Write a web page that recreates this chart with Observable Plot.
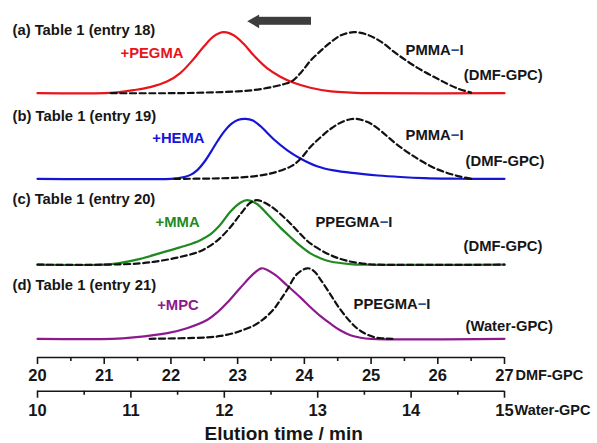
<!DOCTYPE html>
<html><head><meta charset="utf-8">
<script src="https://cdn.jsdelivr.net/npm/d3@7"></script>
<script src="https://cdn.jsdelivr.net/npm/@observablehq/plot@0.6"></script>
<style>
html,body{margin:0;padding:0;background:#fff;}
#chart svg{display:block;}
</style></head>
<body><div id="chart"></div>
<script>
// ---------- data ----------
const dmfTicks = [20, 21, 22, 23, 24, 25, 26, 27];
const waterTicks = [10, 11, 12, 13, 14, 15];
const dmfMinor = [20.5, 21.5, 22.5, 23.5, 24.5, 25.5, 26.5];
const waterMinor = [10.5, 11.5, 12.5, 13.5, 14.5];

// (a) entry 18: +PEGMA (DMF time, min) and PMMA-I
const pegmaTime = [20, 21.0, 21.2, 21.44, 21.69, 21.94, 22.14, 22.34, 22.49, 22.64, 22.79, 22.94, 23.09, 23.24, 23.44, 23.64, 23.84, 24.09, 24.4, 24.7, 25.0, 27];
const pegmaSignal = [0, 0, 0.015, 0.05, 0.10, 0.19, 0.33, 0.56, 0.76, 0.93, 1.0, 0.95, 0.81, 0.62, 0.41, 0.27, 0.17, 0.09, 0.03, 0.01, 0, 0];
const pmmaATime = [21.1, 22.0, 22.5, 23.0, 23.3, 23.55, 23.7, 23.82, 23.95, 24.09, 24.24, 24.39, 24.55, 24.74, 24.94, 25.14, 25.39, 25.69, 25.99, 26.29, 26.5];
const pmmaASignal = [0, 0, 0.01, 0.03, 0.06, 0.11, 0.15, 0.20, 0.34, 0.53, 0.69, 0.83, 0.95, 1.0, 0.96, 0.85, 0.64, 0.42, 0.24, 0.08, 0.01];

// (b) entry 19: +HEMA and PMMA-I
const hemaTime = [20, 22.0, 22.1, 22.2, 22.3, 22.4, 22.5, 22.6, 22.7, 22.8, 22.9, 23.0, 23.12, 23.23, 23.34, 23.54, 23.74, 23.94, 24.19, 24.44, 24.79, 25.1, 25.44, 25.8, 26.2, 26.5, 27];
const hemaSignal = [0, 0, 0.01, 0.03, 0.07, 0.15, 0.28, 0.45, 0.63, 0.79, 0.91, 0.98, 1.0, 0.97, 0.88, 0.66, 0.48, 0.34, 0.21, 0.14, 0.09, 0.055, 0.03, 0.012, 0.003, 0, 0];
const pmmaBTime = [22.05, 22.6, 23.0, 23.3, 23.5, 23.7, 23.82, 23.94, 24.09, 24.24, 24.39, 24.55, 24.74, 24.94, 25.1, 25.39, 25.69, 25.99, 26.29, 26.5];
const pmmaBSignal = [0, 0.005, 0.02, 0.05, 0.09, 0.16, 0.22, 0.33, 0.53, 0.69, 0.83, 0.94, 1.0, 0.95, 0.84, 0.57, 0.34, 0.16, 0.05, 0];

// (c) entry 20: +MMA and PPEGMA-I (DMF)
const mmaTime = [20, 21.0, 21.2, 21.54, 21.94, 22.24, 22.44, 22.59, 22.74, 22.89, 23.04, 23.14, 23.29, 23.44, 23.54, 23.64, 23.79, 23.94, 24.09, 24.24, 24.39, 24.69, 24.9, 27];
const mmaSignal = [0, 0, 0.02, 0.09, 0.21, 0.30, 0.38, 0.47, 0.62, 0.82, 0.96, 1.0, 0.94, 0.79, 0.68, 0.575, 0.43, 0.29, 0.175, 0.10, 0.05, 0.01, 0, 0];
const ppegmaDmfTime = [20, 21.0, 21.54, 21.84, 22.14, 22.44, 22.69, 22.89, 23.04, 23.19, 23.29, 23.49, 23.69, 23.79, 23.89, 24.09, 24.39, 24.64, 24.94, 25.1, 27];
const ppegmaDmfSignal = [0, 0, 0.02, 0.06, 0.12, 0.21, 0.37, 0.58, 0.78, 0.96, 1.0, 0.91, 0.74, 0.64, 0.53, 0.33, 0.15, 0.06, 0.01, 0, 0];

// (d) entry 21: +MPC and PPEGMA-I (Water time, min)
const mpcTime = [10, 10.8, 11.03, 11.39, 11.60, 11.82, 11.93, 12.03, 12.17, 12.32, 12.40, 12.53, 12.67, 12.82, 12.92, 13.03, 13.14, 13.24, 13.35, 13.46, 13.57, 15];
const mpcSignal = [0, 0, 0.02, 0.08, 0.15, 0.27, 0.38, 0.51, 0.72, 0.93, 1.0, 0.92, 0.76, 0.58, 0.45, 0.32, 0.21, 0.12, 0.05, 0.015, 0, 0];
const ppegmaWaterTime = [11.2, 11.82, 11.96, 12.10, 12.17, 12.32, 12.42, 12.53, 12.60, 12.67, 12.78, 12.89, 12.96, 13.03, 13.14, 13.24, 13.35, 13.46, 13.60, 13.71, 13.8];
const ppegmaWaterSignal = [0, 0.02, 0.04, 0.08, 0.11, 0.19, 0.28, 0.42, 0.55, 0.69, 0.92, 1.0, 0.96, 0.84, 0.62, 0.42, 0.24, 0.11, 0.025, 0.005, 0];

// ---------- layout ----------
const panelBase = [4.405, 2.978, 1.547, 0.312];   // baseline of each stacked panel (y units)
const panelGain = [1.017, 1.0, 1.075, 1.175];     // height of each panel's peak (y units)
const toDMF = w => 20 + (w - 10) * 7 / 5;         // water-GPC minutes -> DMF-GPC axis position
const FONT = "'Liberation Sans', Arial, Helvetica, sans-serif";
const INK = "#161616";
const LABEL_SIZE = 14.8;

function trace(times, values, p, conv = t => t) {
  return times.map((t, i) => ({t: conv(t), v: panelBase[p] + values[i] * panelGain[p]}));
}
function curve(rows, color, dashed) {
  const o = {x: "t", y: "v", stroke: color, strokeWidth: 2.2, curve: "catmull-rom", strokeLinejoin: "round"};
  if (dashed) o.strokeDasharray = "6,3.6";
  return Plot.line(rows, o);
}
function label(str, x, y, opts = {}) {
  return Plot.text([str], {x: () => x, y: () => y, text: d => d, textAnchor: "start", lineAnchor: "bottom",
    fontSize: LABEL_SIZE, fontWeight: "bold", fill: INK, fontFamily: FONT, ...opts});
}

const RED = "#e8141b", BLUE = "#1515d6", GREEN = "#1f8a1f", PURPLE = "#8c1a8c", ARROW = "#3d3d3d";

const yDmfAxis = 0, yWaterAxis = -0.562;

const chart = Plot.plot({
  width: 597, height: 443,
  marginLeft: 37, marginRight: 93, marginTop: 0, marginBottom: 86,
  x: {domain: [20, 27], axis: null},
  y: {domain: [0, 5.95], axis: null},
  style: {fontFamily: FONT, background: "#fff"},
  marks: [
    // traces
    curve(trace(pegmaTime, pegmaSignal, 0), RED, false),
    curve(trace(pmmaATime, pmmaASignal, 0), "#111", true),
    curve(trace(hemaTime, hemaSignal, 1), BLUE, false),
    curve(trace(pmmaBTime, pmmaBSignal, 1), "#111", true),
    curve(trace(mmaTime, mmaSignal, 2), GREEN, false),
    curve(trace(ppegmaDmfTime, ppegmaDmfSignal, 2), "#111", true),
    curve(trace(mpcTime, mpcSignal, 3, toDMF), PURPLE, false),
    curve(trace(ppegmaWaterTime, ppegmaWaterSignal, 3, toDMF), "#111", true),

    // arrow (shift to shorter elution time)
    Plot.rect([0], {x1: () => 23.31, x2: () => 24.107, y1: () => 5.537, y2: () => 5.67, fill: ARROW}),
    Plot.dot([0], {x: () => 23.263, y: () => 5.603, symbol: "triangle", r: 5.1, rotate: -90, fill: ARROW, stroke: "none"}),

    // DMF-GPC axis
    Plot.ruleY([yDmfAxis], {x1: 20, x2: 27, stroke: INK, strokeWidth: 1.6}),
    Plot.ruleX(dmfTicks, {x: d => d, y1: () => yDmfAxis, y2: () => yDmfAxis - 7 / 60, stroke: INK, strokeWidth: 1.6}),
    Plot.ruleX(dmfMinor, {x: d => d, y1: () => yDmfAxis, y2: () => yDmfAxis - 4 / 60, stroke: INK, strokeWidth: 1.6}),
    Plot.text(dmfTicks, {x: d => d, y: () => -0.395, text: d => String(d), lineAnchor: "bottom", fontSize: 16.5, fontWeight: "bold", fill: INK, fontFamily: FONT}),
    label("DMF-GPC", 27.165, -0.372, {fontSize: 14.5}),

    // Water-GPC axis
    Plot.ruleY([yWaterAxis], {x1: 20, x2: 27, stroke: INK, strokeWidth: 1.6}),
    Plot.ruleX(waterTicks, {x: toDMF, y1: () => yWaterAxis, y2: () => yWaterAxis - 7 / 60, stroke: INK, strokeWidth: 1.6}),
    Plot.ruleX(waterMinor, {x: toDMF, y1: () => yWaterAxis, y2: () => yWaterAxis - 4 / 60, stroke: INK, strokeWidth: 1.6}),
    Plot.text(waterTicks, {x: toDMF, y: () => -0.967, text: d => String(d), lineAnchor: "bottom", fontSize: 16.5, fontWeight: "bold", fill: INK, fontFamily: FONT}),
    label("Water-GPC", 27.15, -0.95, {fontSize: 14.5}),

    // axis title
    label("Elution time / min", 23.69, -1.383, {textAnchor: "middle", fontSize: 19}),

    // panel labels
    label("(a) Table 1 (entry 18)", 19.625, 5.375),
    label("(b) Table 1 (entry 19)", 19.625, 3.95),
    label("(c) Table 1 (entry 20)", 19.625, 2.562),
    label("(d) Table 1 (entry 21)", 19.625, 1.117),

    label("+PEGMA", 21.244, 4.995, {fill: RED}),
    label("+HEMA", 21.72, 3.578, {fill: BLUE}),
    label("+MMA", 21.77, 2.172, {fill: GREEN}),
    label("+MPC", 21.794, 0.795, {fill: PURPLE}),

    label("PMMA\u2212I", 25.517, 5.045),
    label("(DMF-GPC)", 26.39, 4.633),
    label("PMMA\u2212I", 25.517, 3.633),
    label("(DMF-GPC)", 26.416, 3.2),
    label("PPEGMA\u2212I", 24.167, 2.172),
    label("(DMF-GPC)", 26.386, 1.783),
    label("PPEGMA\u2212I", 24.737, 0.812),
    label("(Water-GPC)", 26.416, 0.45)
  ]
});

// colour the dash in "…−I" like the original
chart.querySelectorAll("text").forEach(t => {
  const s = t.textContent;
  if (t.children.length === 0 && s.includes("\u2212")) {
    const [a, b] = s.split("\u2212");
    t.textContent = "";
    const ns = "http://www.w3.org/2000/svg";
    const p1 = document.createElementNS(ns, "tspan"); p1.textContent = a;
    const p2 = document.createElementNS(ns, "tspan"); p2.textContent = "\u2212"; p2.setAttribute("fill", "#23508c");
    const p3 = document.createElementNS(ns, "tspan"); p3.textContent = b;
    t.append(p1, p2, p3);
  }
});

document.getElementById("chart").append(chart);
</script>
</body></html>
